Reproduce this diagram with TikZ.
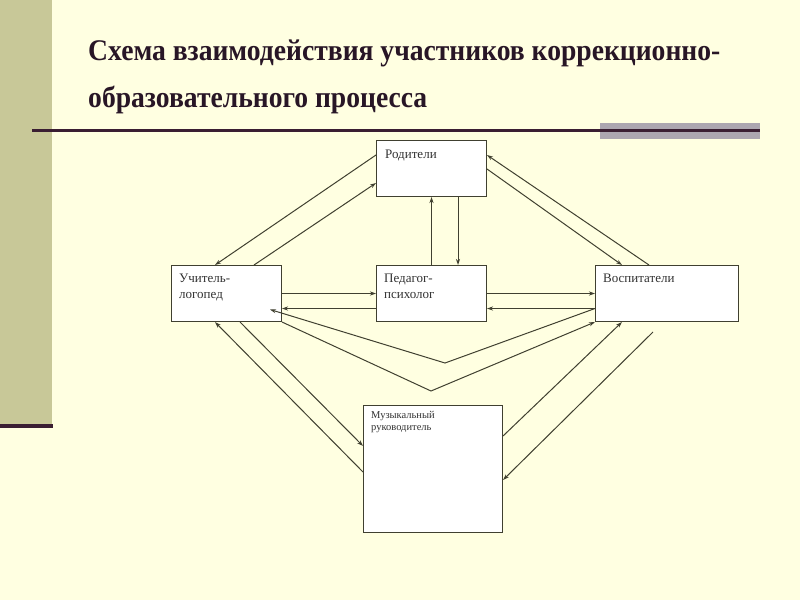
\documentclass[tikz,border=0pt]{standalone}
\usepackage{fontspec}
\setmainfont{Liberation Serif}
\newfontfamily\ttlfont{Liberation Serif}[FakeStretch=0.92]
\usetikzlibrary{arrows.meta,calc}
\definecolor{bg}{RGB}{255,255,225}
\definecolor{strip}{RGB}{200,200,152}
\definecolor{darkline}{RGB}{58,30,50}
\definecolor{ttl}{RGB}{40,22,38}
\definecolor{greybar}{RGB}{172,166,176}
\definecolor{edge}{RGB}{64,64,48}
\definecolor{txt}{RGB}{50,50,50}
\tikzset{
  box/.style={draw=edge, line width=1pt, fill=white, rectangle, inner sep=0pt, anchor=north west},
  lbl/.style={font=\fontsize{13}{16}\selectfont, text=txt, inner sep=0pt, anchor=base west, align=left},
  slbl/.style={font=\fontsize{10.5}{12}\selectfont, text=txt, inner sep=0pt, anchor=base west, align=left},
  conn/.style={draw=edge, line width=1pt, -{Stealth[length=6pt,width=4pt]}},
  title/.style={font=\ttlfont\fontsize{30}{36}\bfseries\selectfont, text=ttl, inner sep=0pt, anchor=base west}
}
\begin{document}
\begin{tikzpicture}[x=1pt,y=-1pt]
\useasboundingbox (0,0) rectangle (800,600);
\fill[bg] (0,0) rectangle (800,600);
\fill[strip] (0,0) rectangle (52,425);
\fill[darkline] (0,424) rectangle (53,428);
% title rule
\fill[greybar] (600,123) rectangle (760,139);
\draw[darkline, line width=2.5pt] (32,130.5) -- (760,130.5);
% title
\node[title] (t1) at (88,60) {Схема взаимодействия участников коррекционно-};
\node[title] (t2) at (88,107) {образовательного процесса};
% boxes
\node[box, minimum width=110pt, minimum height=56pt] (rod) at (376,140) {};
\node[box, minimum width=110pt, minimum height=56pt] (uch) at (171,265) {};
\node[box, minimum width=110pt, minimum height=56pt] (ped) at (376,265) {};
\node[box, minimum width=143pt, minimum height=56pt] (vos) at (595,265) {};
\node[box, minimum width=139pt, minimum height=127pt] (muz) at (363,405) {};
% labels
\node[lbl] (rodt) at (385,158) {Родители};
\node[lbl] (ucht) at (179,298) {Учитель-\\логопед};
\node[lbl] (pedt) at (384,298) {Педагог-\\психолог};
\node[lbl] (vost) at (603,282) {Воспитатели};
\node[slbl] (muzt) at (371,430) {Музыкальный\\руководитель};
% connectors
\draw[conn] ($(rod.north west)+(0,15)$) -- ($(uch.north west)+(44,0)$);
\draw[conn] ($(uch.north west)+(83,0)$) -- ($(rod.north west)+(0,43)$);
\draw[conn] (ped.north) -- (rod.south);
\draw[conn] ($(rod.south west)+(82,0)$) -- ($(ped.north west)+(82,0)$);
\draw[conn] (uch.east) -- (ped.west);
\draw[conn] ($(ped.west)+(0,15)$) -- ($(uch.east)+(0,15)$);
\draw[conn] ($(vos.north west)+(54,0)$) -- ($(rod.north east)+(0,15)$);
\draw[conn] ($(rod.north east)+(0,29)$) -- ($(vos.north west)+(27,0)$);
\draw[conn] (ped.east) -- (vos.west);
\draw[conn] ($(vos.west)+(0,15)$) -- ($(ped.east)+(0,15)$);
\coordinate (v1) at (445,363);
\coordinate (v2) at (431,391);
\draw[conn] ($(vos.west)+(0,15)$) -- (v1) -- ($(uch.east)+(-12,16)$);
\draw[conn] (uch.south east) -- (v2) -- (vos.south west);
\draw[conn] ($(muz.north west)+(0,67)$) -- ($(uch.south west)+(44,0)$);
\draw[conn] ($(uch.south west)+(69,0)$) -- ($(muz.north west)+(0,41)$);
\draw[conn] ($(muz.north east)+(0,31)$) -- ($(vos.south west)+(27,0)$);
\coordinate (free) at (653,332);
\draw[conn] (free) -- ($(muz.north east)+(0,75)$);
\end{tikzpicture}
\end{document}
